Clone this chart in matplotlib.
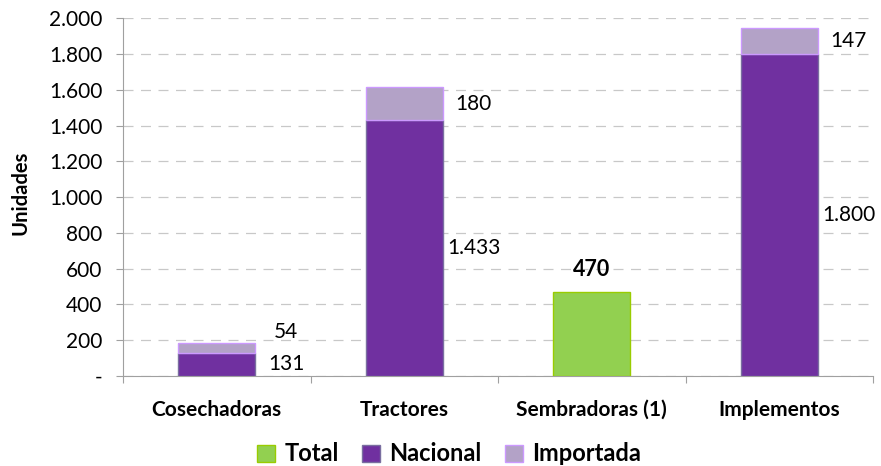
import matplotlib
matplotlib.use("Agg")
import matplotlib.pyplot as plt
import numpy as np
from matplotlib.ticker import FixedLocator, FuncFormatter
from matplotlib.patches import Patch

categories = ["Cosechadoras", "Tractores", "Sembradoras (1)", "Implementos"]
total = [0, 0, 470, 0]
nacional = [131, 1433, 0, 1800]
importada = [54, 180, 0, 147]
y_ticks = [0, 200, 400, 600, 800, 1000, 1200, 1400, 1600, 1800, 2000]

plt.rcParams['font.family'] = ['Lato', 'DejaVu Sans']

fig = plt.figure(figsize=(8.81, 4.66), dpi=100)
ax = fig.add_axes([0.1396, 0.193, 0.991 - 0.1396, 0.961 - 0.193])

x = np.arange(len(categories))
w = 0.41
c_tot, e_tot = "#92D050", "#99CC00"
c_nac, e_nac = "#7030A0", "#7A6FA0"
c_imp, e_imp = "#B3A2C7", "#CC99FF"


def fmt(v):
    return f"{v:,}".replace(",", ".")


for i in range(len(categories)):
    if total[i]:
        ax.bar(x[i], total[i], w, color=c_tot, edgecolor=e_tot, linewidth=1, zorder=3)
        ax.text(x[i], total[i] + 125, f"{total[i]}", ha="center", va="center",
                fontsize=15.5, fontweight="bold", zorder=4)
    if nacional[i]:
        ax.bar(x[i], nacional[i], w, color=c_nac, edgecolor=e_nac, linewidth=1, zorder=3)
        ax.bar(x[i], importada[i], w, bottom=nacional[i], color=c_imp, edgecolor=e_imp,
               linewidth=1, zorder=3)
        ax.text(x[i] + 0.37, nacional[i] / 2, fmt(nacional[i]), ha="center", va="center",
                fontsize=15, zorder=4)
        ypos = nacional[i] + importada[i] / 2
        if i == 0:
            ypos += 90
        ax.text(x[i] + 0.37, ypos, fmt(importada[i]), ha="center", va="center",
                fontsize=15, zorder=4)

ax.set_xlim(-0.5, len(categories) - 0.5)
ax.set_ylim(0, 2000)
ax.yaxis.set_major_locator(FixedLocator(y_ticks))
ax.yaxis.set_major_formatter(FuncFormatter(
    lambda v, p: "-" if v == 0 else fmt(int(v))))
ax.grid(axis="y", color="#C8C8C8", linestyle=(0, (8, 6)), linewidth=0.9, zorder=0)

ax.set_xticks(np.arange(-0.5, len(categories) + 0.5, 1))
ax.set_xticklabels([])
ax.set_xticks(x, minor=True)
ax.set_xticklabels(categories, minor=True, fontsize=15, fontweight="bold")
ax.tick_params(axis="x", which="minor", length=0, pad=17)
ax.tick_params(axis="x", which="major", length=5, color="#A0A0A0", direction="out")
ax.tick_params(axis="y", length=5, color="#A0A0A0", direction="out", labelsize=15, pad=10)

for s in ["top", "right"]:
    ax.spines[s].set_visible(False)
for s in ["left", "bottom"]:
    ax.spines[s].set_color("#A0A0A0")

ax.set_ylabel("Unidades", fontsize=14.5, fontweight="bold")
ax.yaxis.set_label_coords((31 - 123) / (873 - 123), (376 - 193) / 358)

handles = [Patch(facecolor=c_tot, edgecolor=e_tot, label="Total"),
           Patch(facecolor=c_nac, edgecolor=e_nac, label="Nacional"),
           Patch(facecolor=c_imp, edgecolor=e_imp, label="Importada")]
fig.legend(handles=handles, loc="center", bbox_to_anchor=(0.51, 0.026), ncol=3,
           frameon=False, prop={"size": 17, "weight": "bold"},
           handlelength=0.75, handleheight=0.75, handletextpad=0.4, columnspacing=1.0)

fig.savefig("out.png", dpi=100)
